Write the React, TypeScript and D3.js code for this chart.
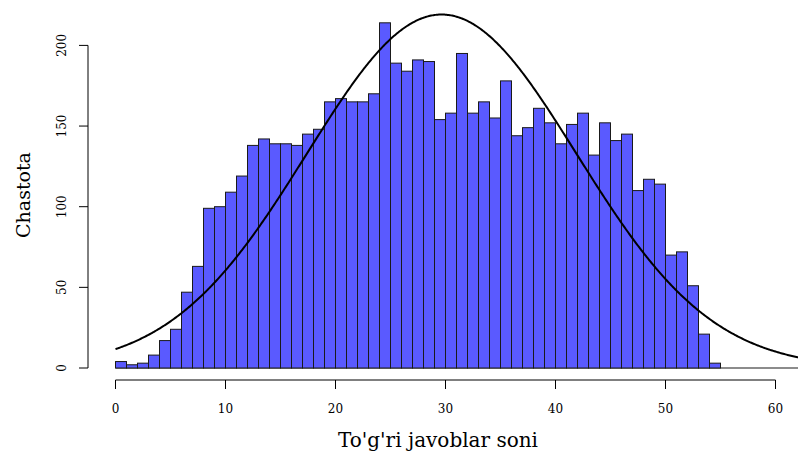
import React from 'react';
import * as d3 from 'd3';

// bin edges 0..55, width 1
const binStarts = d3.range(0, 55);
const counts = [
  4, 2, 3, 8, 17, 24, 47, 63, 99, 100,
  109, 119, 138, 142, 139, 139, 138, 145, 148, 165,
  167, 165, 165, 170, 214, 189, 184, 191, 190, 154,
  158, 195, 158, 165, 155, 178, 144, 149, 161, 152,
  139, 151, 158, 132, 152, 141, 145, 110, 117, 114,
  70, 72, 51, 21, 3,
];
const xTicks = [0, 10, 20, 30, 40, 50, 60];
const yTicks = [0, 50, 100, 150, 200];

// fitted normal curve parameters
const MEAN = 29.65;
const SD = 12.25;

const W = 798;
const H = 455;

const App = () => {
  const x = d3.scaleLinear().domain([0, 60]).range([115.5, 775.5]);
  const y = d3.scaleLinear().domain([0, 200]).range([368, 45.4]);

  const total = d3.sum(counts);
  const curvePts = d3.range(0, 62.6, 0.1).map(v => [
    v,
    (total / (SD * Math.sqrt(2 * Math.PI))) * Math.exp(-((v - MEAN) ** 2) / (2 * SD * SD)),
  ]);
  const line = d3.line<number[]>().x(d => x(d[0])).y(d => y(d[1]));

  const font = '"DejaVu Serif", serif';

  return (
    <div style={{ position: 'absolute', left: 0, top: 0 }}>
      <svg width={W} height={H} style={{ display: 'block', background: '#fff' }}>
        {/* baseline */}
        <line x1={x(0)} x2={W} y1={y(0)} y2={y(0)} stroke="#8c8c8c" strokeWidth={2} />

        {/* bars */}
        {binStarts.map((b, i) => (
          <rect
            key={b}
            x={x(b)}
            y={y(counts[i])}
            width={x(b + 1) - x(b)}
            height={y(0) - y(counts[i])}
            fill="#5a5aff"
            stroke="#1a1a1a"
            strokeWidth={1}
          />
        ))}

        {/* normal curve */}
        <path d={line(curvePts) || ''} fill="none" stroke="#000" strokeWidth={2} />

        {/* x axis */}
        <line x1={x(0)} x2={x(60)} y1={380} y2={380} stroke="#000" strokeWidth={1} />
        {xTicks.map(t => (
          <g key={t}>
            <line x1={x(t)} x2={x(t)} y1={380} y2={389} stroke="#000" />
            <text x={x(t)} y={413} textAnchor="middle" fontSize={12} fontFamily={font} fill="#000">
              {t}
            </text>
          </g>
        ))}
        <text x={438} y={447} textAnchor="middle" fontSize={20} fontFamily={font} fill="#000">
          To'g'ri javoblar soni
        </text>

        {/* y axis */}
        <line x1={88} x2={88} y1={y(0)} y2={y(200)} stroke="#000" strokeWidth={1} />
        {yTicks.map(t => (
          <g key={t}>
            <line x1={79} x2={88} y1={y(t)} y2={y(t)} stroke="#000" />
            <text
              transform={`translate(66,${y(t)}) rotate(-90)`}
              textAnchor="middle"
              fontSize={12}
              fontFamily={font}
              fill="#000"
            >
              {t}
            </text>
          </g>
        ))}
        <text
          transform={`translate(30,195) rotate(-90)`}
          textAnchor="middle"
          fontSize={19}
          fontFamily={font}
          fill="#000"
        >
          Chastota
        </text>
      </svg>
    </div>
  );
};

export default App;
